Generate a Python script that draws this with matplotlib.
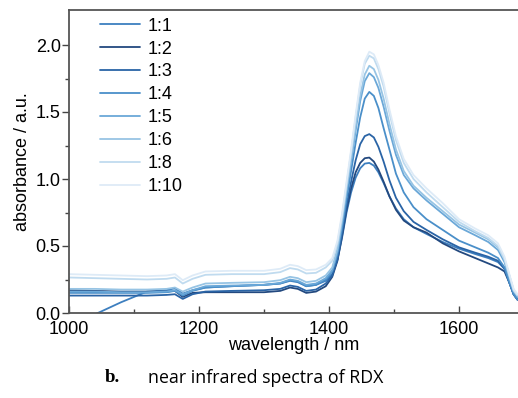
import numpy as np
import matplotlib
matplotlib.use("Agg")
import matplotlib.pyplot as plt

wavelength = [1000, 1040, 1080, 1120, 1150, 1163, 1175, 1190, 1210, 1250, 1300, 1325, 1340, 1352,
              1365, 1380, 1395, 1405, 1413, 1420, 1427, 1434, 1441, 1448, 1455, 1462, 1469, 1476,
              1484, 1493, 1503, 1515, 1530, 1550, 1575, 1600, 1625, 1645, 1660, 1670, 1678, 1684, 1690]

labels = ["1:1", "1:2", "1:3", "1:4", "1:5", "1:6", "1:8", "1:10"]
colors = ["#3d7fbf", "#23497f", "#2a64a6", "#4a8fc9", "#6ba8d8", "#97c4e4", "#c0dbef", "#deebf7"]

r_1_1 = [np.nan, -0.01, 0.08, 0.16, 0.17, 0.185, 0.145, 0.17, 0.19, 0.2, 0.21, 0.22, 0.24, 0.23,
         0.2, 0.21, 0.24, 0.29, 0.4, 0.56, 0.75, 0.9, 1.01, 1.08, 1.115, 1.12, 1.1, 1.05,
         0.97, 0.87, 0.78, 0.7, 0.64, 0.59, 0.53, 0.48, 0.44, 0.41, 0.38, 0.33, 0.22, 0.14, 0.1]
r_1_2 = [0.17, 0.165, 0.16, 0.16, 0.16, 0.165, 0.12, 0.15, 0.155, 0.155, 0.155, 0.165, 0.19, 0.18,
         0.15, 0.16, 0.2, 0.27, 0.39, 0.57, 0.77, 0.93, 1.05, 1.12, 1.155, 1.16, 1.13, 1.07,
         0.98, 0.87, 0.77, 0.69, 0.64, 0.6, 0.52, 0.46, 0.41, 0.37, 0.34, 0.31, 0.22, 0.14, 0.1]
r_1_3 = [0.13, 0.13, 0.13, 0.13, 0.135, 0.14, 0.105, 0.14, 0.16, 0.165, 0.17, 0.18, 0.205, 0.195,
         0.165, 0.175, 0.22, 0.28, 0.4, 0.59, 0.8, 0.98, 1.14, 1.26, 1.32, 1.335, 1.31, 1.24,
         1.13, 0.99, 0.86, 0.76, 0.68, 0.62, 0.55, 0.49, 0.45, 0.42, 0.39, 0.33, 0.22, 0.14, 0.1]
r_1_4 = [0.15, 0.15, 0.15, 0.15, 0.155, 0.165, 0.13, 0.165, 0.19, 0.2, 0.21, 0.22, 0.245, 0.235,
         0.2, 0.21, 0.25, 0.31, 0.44, 0.63, 0.85, 1.06, 1.27, 1.46, 1.6, 1.65, 1.62, 1.53,
         1.38, 1.22, 1.04, 0.9, 0.79, 0.7, 0.62, 0.54, 0.49, 0.45, 0.41, 0.34, 0.22, 0.14, 0.1]
r_1_5 = [0.16, 0.16, 0.155, 0.155, 0.16, 0.17, 0.14, 0.17, 0.2, 0.205, 0.21, 0.225, 0.25, 0.24,
         0.21, 0.22, 0.26, 0.32, 0.46, 0.67, 0.9, 1.13, 1.36, 1.58, 1.73, 1.79, 1.76, 1.68,
         1.54, 1.36, 1.18, 1.03, 0.93, 0.84, 0.74, 0.64, 0.58, 0.53, 0.47, 0.38, 0.25, 0.16, 0.12]
r_1_6 = [0.18, 0.18, 0.175, 0.175, 0.18, 0.19, 0.16, 0.19, 0.22, 0.225, 0.23, 0.245, 0.27, 0.26,
         0.23, 0.24, 0.28, 0.34, 0.48, 0.69, 0.93, 1.16, 1.4, 1.62, 1.78, 1.845, 1.82, 1.74,
         1.6, 1.41, 1.22, 1.06, 0.95, 0.86, 0.76, 0.66, 0.6, 0.55, 0.49, 0.4, 0.27, 0.17, 0.13]
r_1_8 = [0.265, 0.26, 0.255, 0.25, 0.255, 0.265, 0.22, 0.255, 0.285, 0.29, 0.29, 0.305, 0.335, 0.325,
         0.295, 0.3, 0.34, 0.39, 0.52, 0.72, 0.96, 1.2, 1.46, 1.7, 1.86, 1.92, 1.9, 1.82,
         1.69, 1.49, 1.29, 1.12, 1.0, 0.9, 0.79, 0.68, 0.61, 0.56, 0.5, 0.4, 0.27, 0.17, 0.13]
r_1_10 = [0.29, 0.285, 0.28, 0.275, 0.28, 0.29, 0.245, 0.28, 0.31, 0.315, 0.315, 0.33, 0.36, 0.35,
          0.32, 0.325, 0.36, 0.41, 0.54, 0.74, 0.98, 1.22, 1.48, 1.72, 1.88, 1.95, 1.93, 1.85,
          1.72, 1.52, 1.32, 1.15, 1.03, 0.93, 0.82, 0.7, 0.63, 0.58, 0.52, 0.42, 0.28, 0.18, 0.14]

series = [r_1_1, r_1_2, r_1_3, r_1_4, r_1_5, r_1_6, r_1_8, r_1_10]

x_ticks = [1000, 1200, 1400, 1600]
y_ticks = [0.0, 0.5, 1.0, 1.5, 2.0]

font = ["Liberation Sans", "DejaVu Sans"]
plt.rcParams["font.family"] = font

fig = plt.figure(figsize=(5.18, 3.98), dpi=100)
ax = fig.add_axes([69/518, 85/398, 448.5/518, 303/398])

handles = []
for vals, lab, col in zip(series, labels, colors):
    h, = ax.plot(wavelength, vals, color=col, lw=1.3, label=lab, solid_capstyle="round")
    handles.append(h)

ax.set_xlim(1000, 1690)
ax.set_ylim(0, 303/134)
ax.set_xticks(x_ticks)
ax.set_xticks([1100, 1300, 1500], minor=True)
ax.set_yticks(y_ticks)
ax.set_yticks([0.25, 0.75, 1.25, 1.75], minor=True)
ax.set_yticklabels(["0.0", "0.5", "1.0", "1.5", "2.0"])

ax.tick_params(axis="x", which="major", direction="in", length=5, width=1, colors="#444444",
               labelcolor="black", labelsize=13, pad=6)
ax.tick_params(axis="x", which="minor", direction="in", length=3, width=1, colors="#444444")
ax.tick_params(axis="y", which="major", direction="out", length=5, width=1, colors="#444444",
               labelcolor="black", labelsize=13, pad=1)
ax.tick_params(axis="y", which="minor", direction="out", length=3, width=1, colors="#444444")

for s in ["left", "bottom", "top"]:
    ax.spines[s].set_color("#555555")
    ax.spines[s].set_linewidth(1.3)
ax.spines["right"].set_visible(False)

ax.set_xlabel("wavelength / nm", fontsize=13, labelpad=-1)
ax.set_ylabel("absorbance / a.u.", fontsize=13, labelpad=3)

leg = ax.legend(handles=handles, loc="upper left", bbox_to_anchor=(0.069, 0.975),
                frameon=False, fontsize=13, handlelength=2.2, handletextpad=0.45,
                labelspacing=0.33, borderpad=0, borderaxespad=0)

fig.text(105/518, 1 - 378/398, "b.", fontsize=13.5, fontweight="bold",
         family=["Liberation Serif", "DejaVu Serif"], va="center", ha="left")
fig.text(148/518, 1 - 378/398, "near infrared spectra of RDX", fontsize=12.8,
         family=["Open Sans", "DejaVu Sans"], va="center", ha="left")

fig.savefig("out.png", dpi=100)
